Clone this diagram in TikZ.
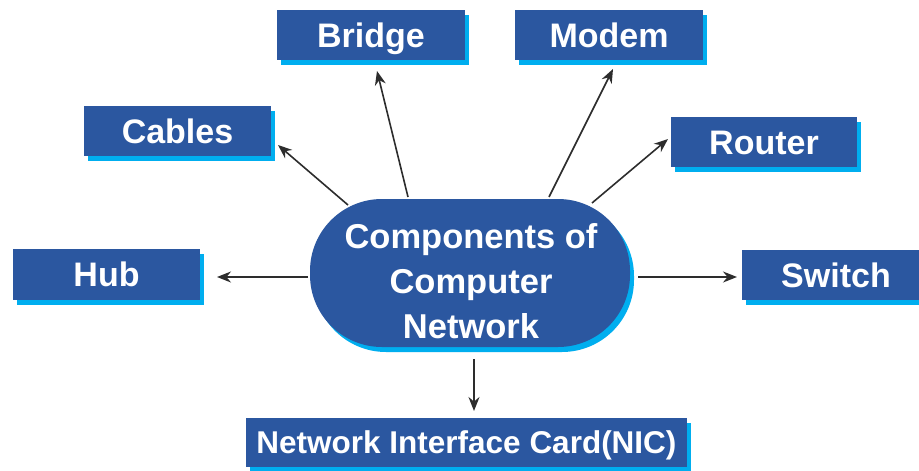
\documentclass[tikz,border=0pt]{standalone}
\usepackage{fontspec}
\setmainfont{Liberation Sans}
\usetikzlibrary{arrows.meta,shadows}
\definecolor{boxblue}{RGB}{43,87,160}
\definecolor{shcyan}{RGB}{0,174,239}
\definecolor{arrgray}{RGB}{45,45,45}
\begin{document}
\begin{tikzpicture}[x=1pt,y=-1pt,
  compbox/.style={rectangle, fill=boxblue, draw=none, text=white,
    font=\fontsize{34}{38}\selectfont\bfseries, inner sep=0pt,
    minimum height=50pt, text height=24pt, text depth=0pt,
    copy shadow={shadow xshift=4pt, shadow yshift=-5pt, fill=shcyan, draw=none}},
  arr/.style={draw=arrgray, line width=1.6pt, -{Stealth[length=14pt,width=11pt]}}]
\useasboundingbox (0,0) rectangle (919,471);
\fill[white] (0,0) rectangle (919,471);
% centre
\fill[shcyan, rounded corners=72pt] (314,204) rectangle (634,352);
\fill[boxblue, rounded corners=72pt] (310,199) rectangle (630,347);
\node[text=white, align=center, font=\fontsize{34.5}{45}\selectfont\bfseries] (cn) at (471,281) {Components of\\Computer\\Network};
% boxes
\node[compbox, minimum width=188pt] (bridge) at (371,35) {Bridge};
\node[compbox, minimum width=188pt] (modem) at (609,35) {Modem};
\node[compbox, minimum width=187pt] (cables) at (177.5,131) {Cables};
\node[compbox, minimum width=186pt] (router) at (764,142) {Router};
\node[compbox, minimum width=187pt, minimum height=51pt] (hub) at (106.5,274.5) {Hub};
\node[compbox, minimum width=188pt] (switch) at (836,275) {Switch};
\node[compbox, minimum width=441pt, minimum height=49pt, text height=22.5pt, font=\fontsize{31.5}{34}\selectfont\bfseries] (nic) at (466.5,442.5) {Network Interface Card(NIC)};
% connector ends
\coordinate (cA) at (348,205); \coordinate (tA) at (278,145);
\coordinate (cB) at (408,197); \coordinate (tB) at (377,71);
\coordinate (cM) at (549,197); \coordinate (tM) at (613,69);
\coordinate (cR) at (592,203); \coordinate (tR) at (668,139);
\coordinate (cH) at (308,277); \coordinate (tH) at (217,277);
\coordinate (cS) at (638,277); \coordinate (tS) at (737,277);
\coordinate (cN) at (474,359); \coordinate (tN) at (474,411);
\draw[arr] (cA) -- (tA);
\draw[arr] (cB) -- (tB);
\draw[arr] (cM) -- (tM);
\draw[arr] (cR) -- (tR);
\draw[arr] (cH) -- (tH);
\draw[arr] (cS) -- (tS);
\draw[arr] (cN) -- (tN);
\end{tikzpicture}
\end{document}
